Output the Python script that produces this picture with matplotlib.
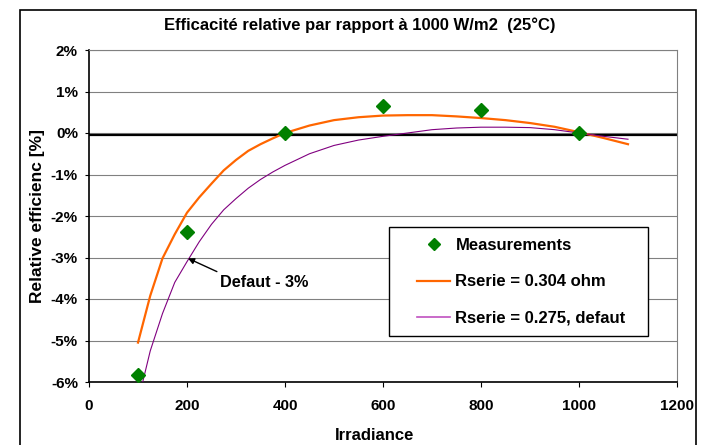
import matplotlib.pyplot as plt
from matplotlib.patches import Rectangle
from matplotlib.lines import Line2D

# Datos
mes_x = [100, 200, 400, 600, 800, 1000]
mes_y = [-5.84, -2.38, 0.0, 0.64, 0.55, 0.0]

curva_x = [100, 125, 150, 175, 200, 225, 250, 275, 300, 325, 350, 375, 400, 450, 500,
           550, 600, 650, 700, 750, 800, 850, 900, 950, 1000, 1050, 1100]
rs304_y = [-5.05, -3.92, -3.02, -2.44, -1.92, -1.55, -1.22, -0.90, -0.65, -0.43, -0.27,
           -0.13, 0.0, 0.18, 0.31, 0.38, 0.42, 0.43, 0.43, 0.40, 0.36, 0.31, 0.24, 0.15,
           0.02, -0.12, -0.27]
rs275_y = [-6.47, -5.25, -4.35, -3.6, -3.1, -2.62, -2.2, -1.85, -1.58, -1.33, -1.12,
           -0.94, -0.78, -0.5, -0.3, -0.17, -0.08, 0.0, 0.08, 0.12, 0.14, 0.14, 0.13, 0.08,
           0.0, -0.08, -0.15]

x_ticks = [0, 200, 400, 600, 800, 1000, 1200]
y_ticks = [2, 1, 0, -1, -2, -3, -4, -5, -6]

plt.rcParams['font.family'] = ['Liberation Sans', 'DejaVu Sans']
plt.rcParams['font.weight'] = 'bold'

fig = plt.figure(figsize=(7.02, 4.45), dpi=100)
ax = fig.add_axes([89/702, 63/445, 588/702, 332/445])

# marco exterior del grafico
fig.patches.append(Rectangle((20/702, -0.1), 676/702, 1.1 - 10/445, transform=fig.transFigure,
                             fill=False, edgecolor='black', linewidth=1.2, clip_on=False))

ax.plot(curva_x, rs304_y, color='#FF6600', linewidth=1.6, zorder=3)
ax.plot(curva_x, rs275_y, color='#800080', linewidth=0.8, zorder=3)
ax.plot(mes_x, mes_y, linestyle='none', marker='D', markersize=7, color='#008000', zorder=4)
ax.axhline(-0.05, color='black', linewidth=1.6, zorder=2)

ax.set_xlim(0, 1200)
ax.set_ylim(-6, 2)
ax.set_xticks(x_ticks)
ax.set_yticks(y_ticks)
ax.set_yticklabels([f"{v}%" for v in y_ticks])
ax.grid(True, axis='y', color='#808080', linewidth=0.8)
ax.set_axisbelow(True)
ax.tick_params(axis='y', direction='out', length=3, pad=5, labelsize=11)
ax.tick_params(axis='x', direction='out', length=3.6, pad=9, labelsize=11)
for s in ['top', 'right']:
    ax.spines[s].set_color('#808080')
for s in ['left', 'bottom']:
    ax.spines[s].set_color('black')
    ax.spines[s].set_linewidth(1.2)

ax.set_xlabel('Irradiance', fontsize=12, fontweight='bold', va='center')
ax.xaxis.set_label_coords(0.485, -0.16)
ax.set_ylabel('Relative efficienc [%]', fontsize=12.5, fontweight='bold', va='center')
ax.yaxis.set_label_coords(-0.088, 0.5)
fig.text(0.513, 0.944, 'Efficacité relative par rapport à 1000 W/m2  (25°C)',
         ha='center', va='center', fontsize=12, fontweight='bold')

# anotacion
ax.annotate('', xy=(202, -3.02), xytext=(261, -3.34),
            arrowprops=dict(arrowstyle='-|>', color='black', linewidth=1, mutation_scale=9,
                            shrinkA=0, shrinkB=0))
ax.text(267, -3.61, 'Defaut - 3%', fontsize=11.7, fontweight='bold', va='center', ha='left')

# leyenda
ax.add_patch(Rectangle((0.51, 0.139), 0.441, 0.328, transform=ax.transAxes,
                       facecolor='white', edgecolor='black', linewidth=1, zorder=5))
handles = [Line2D([], [], linestyle='none', marker='D', markersize=6, color='#008000'),
           Line2D([], [], color='#FF6600', linewidth=1.6),
           Line2D([], [], color='#C050C0', linewidth=1.2)]
labels = ['Measurements', 'Rserie = 0.304 ohm', 'Rserie = 0.275, defaut']
leg = ax.legend(handles, labels, loc='upper left', bbox_to_anchor=(0.558, 0.433),
                frameon=False, borderpad=0, borderaxespad=0, handlelength=2.0,
                handletextpad=0.3, labelspacing=1.27, fontsize=12)
leg.set_zorder(6)

fig.savefig('out.png', dpi=100)
